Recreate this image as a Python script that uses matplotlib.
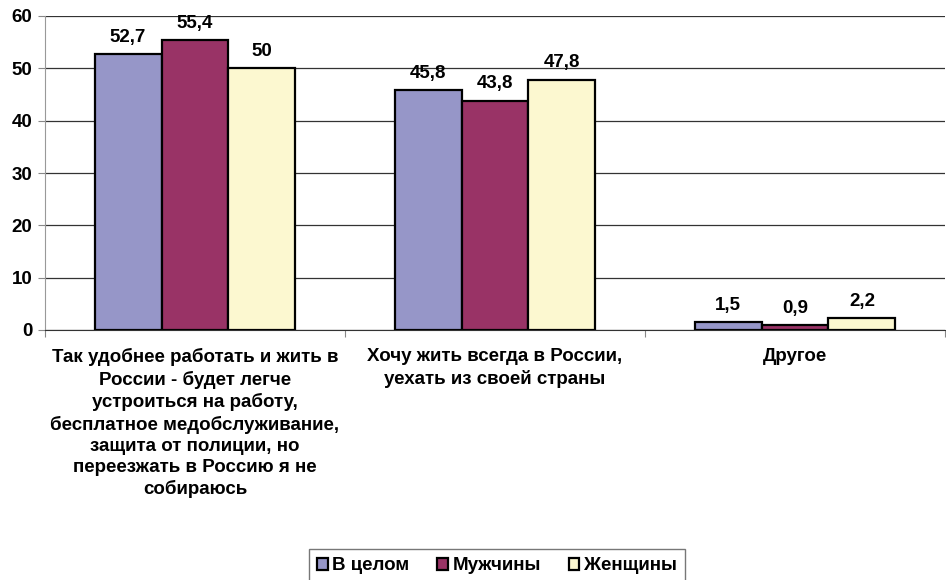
import matplotlib.pyplot as plt
import numpy as np

plt.rcParams['font.family'] = ['Liberation Sans', 'DejaVu Sans']
plt.rcParams['font.weight'] = 'bold'

categories = [
    "Так удобнее работать и жить в\nРоссии - будет легче\nустроиться на работу,\nбесплатное медобслуживание,\nзащита от полиции, но\nпереезжать в Россию я не\nсобираюсь",
    "Хочу жить всегда в России,\nуехать из своей страны",
    "Другое",
]
series_names = ["В целом", "Мужчины", "Женщины"]
overall = [52.7, 45.8, 1.5]
men = [55.4, 43.8, 0.9]
women = [50, 47.8, 2.2]
colors = ["#9696c8", "#993366", "#fcf8d0"]

fig = plt.figure(figsize=(9.46, 5.8), dpi=100)
ax = fig.add_axes([45 / 946, 1 - 330 / 580, 900 / 946, 314 / 580])

x = np.arange(len(categories))
w = 0.223
for i, (vals, name, c) in enumerate(zip([overall, men, women], series_names, colors)):
    bars = ax.bar(x + (i - 1) * w, vals, w, color=c, edgecolor="black",
                  linewidth=1.6, label=name, zorder=3)
    for b, v in zip(bars, vals):
        ax.text(b.get_x() + b.get_width() / 2, v + 1.6, str(v).replace(".", ","),
                ha="center", va="bottom", fontsize=13.5, fontweight="bold")

ax.set_xlim(-0.5, 2.5)
ax.set_ylim(0, 60)
ax.set_yticks(range(0, 61, 10))
ax.yaxis.grid(True, color="#333333", linewidth=0.9, zorder=0)
ax.tick_params(axis="y", labelsize=13.5, length=5, color="#888888", pad=4)
ax.set_xticks([-0.5, 0.5, 1.5, 2.5])
ax.set_xticklabels([])
ax.tick_params(axis="x", length=5, color="#888888", direction="out")
for s in ["top", "right"]:
    ax.spines[s].set_visible(False)
ax.spines["left"].set_color("#999999")
ax.spines["bottom"].set_color("#333333")
ax.spines["bottom"].set_zorder(4)

for xi, lab in zip(x, categories):
    ax.text(xi, -3.5, lab, ha="center", va="top", fontsize=13.5,
            fontweight="bold", linespacing=1.31)

leg = fig.legend(loc="center", bbox_to_anchor=(497 / 946, 1 - 566 / 580), ncol=3,
                 frameon=True, fancybox=False, edgecolor="#555555",
                 fontsize=13.5, handlelength=0.55, handleheight=0.55,
                 handletextpad=0.25, columnspacing=1.5, borderpad=0.45)
for t in leg.get_texts():
    t.set_fontweight("bold")

fig.savefig("out.png", dpi=100)
